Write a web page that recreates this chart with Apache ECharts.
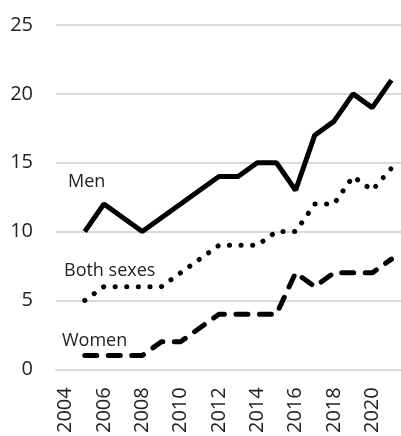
<!DOCTYPE html>
<html>
<head>
<meta charset="utf-8">
<script src="https://cdn.jsdelivr.net/npm/echarts@6/dist/echarts.min.js"></script>
<style>
  html, body { margin: 0; padding: 0; background: #fff; }
  #chart { width: 401px; height: 436px; }
</style>
</head>
<body>
<div id="chart"></div>
<script>
  var years = ['2004', '2005', '2006', '2007', '2008', '2009', '2010', '2011', '2012',
    '2013', '2014', '2015', '2016', '2017', '2018', '2019', '2020', '2021'];
  // no value for 2004
  var men = [null, 10, 12, 11, 10, 11, 12, 13, 14, 14, 15, 15, 13, 17, 18, 20, 19, 21];
  var bothSexes = [null, 5, 6, 6, 6, 6, 7, 8, 9, 9, 9, 10, 10, 12, 12, 14, 13, 14.6];
  var women = [null, 1, 1, 1, 1, 2, 2, 3, 4, 4, 4, 4, 7, 6, 7, 7, 7, 8];
  var yTicks = { min: 0, max: 25, interval: 5 };

  var font = '"Open Sans", sans-serif';
  var textColor = '#222';
  var grey = '#d9d9d9';

  function lineSeries(name, values, type, cap) {
    return {
      name: name,
      type: 'line',
      data: values,
      symbol: 'none',
      silent: true,
      lineStyle: { color: '#000', width: 5, type: type, cap: cap }
    };
  }

  var chart = echarts.init(document.getElementById('chart'));
  chart.setOption({
    animation: false,
    grid: { left: 56, right: -7, top: 25, bottom: 62 },
    xAxis: [
      {
        type: 'category',
        data: years,
        boundaryGap: true,
        axisLine: { lineStyle: { color: grey, width: 2 } },
        axisTick: { interval: 1, length: 8, lineStyle: { color: grey, width: 2 } },
        axisLabel: {
          interval: 1, rotate: 90, margin: 18,
          fontFamily: font, fontSize: 20, color: textColor
        }
      },
      {
        type: 'category',
        data: years,
        position: 'bottom',
        boundaryGap: true,
        axisLine: { show: false },
        axisTick: { inside: true, interval: 1, length: 6, lineStyle: { color: grey, width: 2 } },
        axisLabel: { show: false }
      }
    ],
    yAxis: {
      type: 'value',
      min: yTicks.min,
      max: yTicks.max,
      interval: yTicks.interval,
      axisLine: { show: false },
      axisTick: { show: false },
      splitLine: { lineStyle: { color: grey, width: 2 } },
      axisLabel: { margin: 23, fontFamily: font, fontSize: 20, color: textColor }
    },
    series: [
      lineSeries('Men', men, 'solid', 'butt'),
      lineSeries('Both sexes', bothSexes, [0.1, 11.5], 'round'),
      lineSeries('Women', women, [12, 11.5], 'round')
    ],
    graphic: [
      { type: 'text', left: 68, top: 173, style: { text: 'Men', font: '18px ' + font, fill: textColor } },
      { type: 'text', left: 64, top: 262, style: { text: 'Both sexes', font: '18px ' + font, fill: textColor } },
      { type: 'text', left: 62, top: 332, style: { text: 'Women', font: '18px ' + font, fill: textColor } }
    ]
  });
</script>
</body>
</html>
